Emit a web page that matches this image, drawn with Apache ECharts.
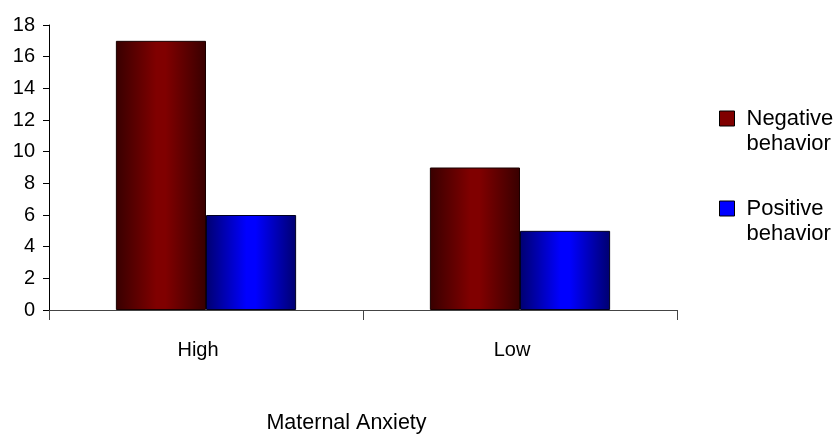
<!DOCTYPE html>
<html>
<head>
<meta charset="utf-8">
<script src="https://cdn.jsdelivr.net/npm/echarts@6/dist/echarts.min.js"></script>
<style>html,body{margin:0;padding:0;background:#fff;}#c{width:834px;height:439px;}</style>
</head>
<body>
<div id="c"></div>
<script>
const categories = ['High', 'Low'];
const seriesNames = ['Negative behavior', 'Positive behavior'];
const negativeValues = [17, 9];
const positiveValues = [6, 5];
const yTicks = { min: 0, max: 18, interval: 2 };
const axisTitle = 'Maternal Anxiety';

const FONT = 'Liberation Sans, Arial, sans-serif';
const redGrad = new echarts.graphic.LinearGradient(0, 0, 1, 0, [
  { offset: 0, color: '#380000' },
  { offset: 0.45, color: '#800000' },
  { offset: 0.55, color: '#800000' },
  { offset: 1, color: '#380000' }
]);
const blueGrad = new echarts.graphic.LinearGradient(0, 0, 1, 0, [
  { offset: 0, color: '#000070' },
  { offset: 0.45, color: '#0000ff' },
  { offset: 0.55, color: '#0000ff' },
  { offset: 1, color: '#000070' }
]);

const chart = echarts.init(document.getElementById('c'), null, { renderer: 'canvas' });
chart.setOption({
  animation: false,
  backgroundColor: '#fff',
  grid: { left: 49, right: 157, top: 25, bottom: 113, containLabel: false },
  legend: {
    orient: 'vertical',
    left: 714,
    top: 76,
    itemWidth: 15,
    itemHeight: 15,
    itemGap: 15,
    icon: 'rect',
    data: [
      { name: seriesNames[0], itemStyle: { color: '#800000', borderColor: '#000', borderWidth: 1 } },
      { name: seriesNames[1], itemStyle: { color: '#0000ff', borderColor: '#000', borderWidth: 1 } }
    ],
    formatter: n => '\n' + n.replace(' ', '\n'),
    textStyle: { fontFamily: FONT, fontSize: 22, color: '#000', lineHeight: 25, padding: [0, 0, 0, 7] }
  },
  xAxis: {
    type: 'category',
    data: categories,
    name: axisTitle,
    nameLocation: 'middle',
    nameGap: 102,
    nameTextStyle: { fontFamily: FONT, fontSize: 21.5, color: '#000', padding: [0, 33, 0, 0] },
    axisLine: { show: true, lineStyle: { color: '#444', width: 1 } },
    axisTick: { show: true, length: 10, lineStyle: { color: '#444' } },
    axisLabel: { fontFamily: FONT, fontSize: 20, color: '#000', margin: 30, padding: [0, 16, 0, 0] }
  },
  yAxis: {
    type: 'value',
    min: yTicks.min,
    max: yTicks.max,
    interval: yTicks.interval,
    axisLine: { show: true, lineStyle: { color: '#000', width: 1 } },
    axisTick: { show: true, length: 6, lineStyle: { color: '#000' } },
    axisLabel: { fontFamily: FONT, fontSize: 20, color: '#000', margin: 14 },
    splitLine: { show: false }
  },
  series: [
    {
      name: seriesNames[0], type: 'bar', data: negativeValues,
      barWidth: '28.7%', barGap: '0%',
      itemStyle: { color: redGrad, borderColor: '#1a0000', borderWidth: 1 }
    },
    {
      name: seriesNames[1], type: 'bar', data: positiveValues,
      barWidth: '28.7%', barGap: '0%',
      itemStyle: { color: blueGrad, borderColor: '#000020', borderWidth: 1 }
    }
  ]
});
</script>
</body>
</html>
